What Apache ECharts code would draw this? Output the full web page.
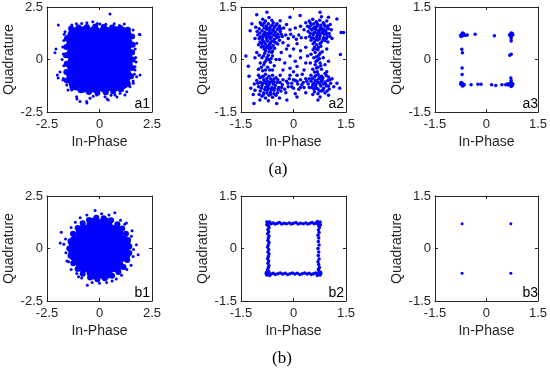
<!DOCTYPE html>
<html>
<head>
<meta charset="utf-8">
<script src="https://cdn.jsdelivr.net/npm/echarts@6/dist/echarts.min.js"></script>
<style>
html,body{margin:0;padding:0;background:#fff;}
#chart{width:550px;height:369px;}
</style>
</head>
<body>
<div id="chart"></div>
<script>
// ---------- tick labels ----------
const ticksWide = [-2.5, 0, 2.5];
const ticksNarrow = [-1.5, 0, 1.5];
const xName = 'In-Phase';
const yName = 'Quadrature';
const panelTags = ['a1', 'a2', 'a3', 'b1', 'b2', 'b3'];
const captions = ['(a)', '(b)'];

// ---------- a1 : dense noisy cloud ----------
const a1Core = [[-1.15,1.15],[-0.75,1.2],[-0.25,1.2],[0.25,1.2],[0.75,1.2],[1.15,1.15],
[-1.2,0.75],[-0.75,0.75],[-0.25,0.75],[0.25,0.75],[0.75,0.75],[1.2,0.75],
[-1.2,0.25],[-0.75,0.25],[-0.25,0.25],[0.25,0.25],[0.75,0.25],[1.2,0.25],
[-1.2,-0.25],[-0.75,-0.25],[-0.25,-0.25],[0.25,-0.25],[0.75,-0.25],[1.2,-0.25],
[-1.2,-0.75],[-0.75,-0.75],[-0.25,-0.75],[0.25,-0.75],[0.75,-0.75],[1.15,-0.75],
[-1.1,-1.1],[-0.75,-1.2],[-0.25,-1.2],[0.25,-1.2],[0.7,-1.15],[1.05,-1.05]];
const a1Edge = [[-1.35,1.48],[-1.0,1.52],[-0.6,1.55],[-0.2,1.57],[0.2,1.55],[0.6,1.52],[1.0,1.5],[1.35,1.42],
[1.55,1.1],[1.58,0.7],[1.55,0.35],[1.58,0.0],[1.55,-0.4],[1.5,-0.8],[1.35,-1.15],
[1.0,-1.42],[0.65,-1.52],[0.3,-1.56],[-0.1,-1.58],[-0.5,-1.55],[-0.9,-1.47],[-1.28,-1.32],
[-1.55,-1.0],[-1.58,-0.6],[-1.56,-0.2],[-1.6,0.2],[-1.58,0.6],[-1.55,1.0]];
const a1Dots = [[0.5,2.17],[-1.96,1.64],[1.93,1.18],[-1.32,1.64],[-0.85,1.72],[-0.32,1.8],[0.02,1.69],[1.18,1.69],
[1.42,1.25],[-2.07,0.5],[-2.12,0.32],[-1.72,0.26],[-1.64,1.32],[-1.56,1.09],[1.77,0.77],[1.61,0.3],[1.9,1.2],
[1.74,-0.12],[1.69,-0.5],[1.6,-1.02],[-1.88,-0.6],[-2.01,-0.74],[-1.72,-0.9],[-1.56,-1.21],[-1.32,-1.45],
[-1.09,-1.77],[-0.93,-2.0],[-0.61,-2.0],[-0.45,-1.85],[-0.13,-1.69],[0.26,-1.77],[0.42,-1.93],[0.74,-1.69],
[0.98,-1.61],[1.3,-1.53],[1.45,-1.3],[1.61,-1.13],[1.77,-0.82],[1.69,-0.34],[1.93,-0.74],[-1.07,-1.88],
[-0.6,-2.07],[0.36,-1.88],[0.83,-1.79],[1.21,-1.69],[-1.74,-0.98],[-1.97,-0.88],
[-1.1,1.7],[-0.6,1.75],[-0.1,1.72],[0.3,1.68],[0.7,1.7],[0.95,1.62],[1.6,1.4],[1.7,0.5],[1.72,0.1],
[1.66,-0.7],[-1.7,0.9],[-1.75,0.6],[-1.7,-0.3],[-1.78,0.0],[-1.4,1.45],[-1.68,1.2],[-1.5,-1.45],
[-0.3,-1.75],[0.55,-1.7],[1.1,-1.45]];

// ---------- a2 : spread QPSK ----------
const a2Dots = [
[-0.95,1.05],[-0.88,0.98],[-0.8,1.1],[-0.72,1.02],[-0.65,0.95],[-0.58,1.05],[-0.5,0.98],[-0.42,0.9],
[-0.98,0.88],[-0.9,0.82],[-0.84,0.9],[-0.76,0.86],[-0.68,0.8],[-0.6,0.86],[-0.52,0.78],[-0.45,0.72],
[-0.38,0.8],[-1.02,0.7],[-0.94,0.65],[-0.86,0.72],[-0.78,0.62],[-0.7,0.7],[-0.63,0.64],[-0.55,0.58],
[-0.48,0.62],[-0.4,0.55],[-0.32,0.66],[-0.96,0.5],[-0.88,0.55],[-0.8,0.45],[-0.73,0.52],[-0.66,0.46],
[-0.58,0.4],[-0.5,0.48],[-0.92,0.36],[-0.84,0.3],[-0.76,0.38],[-0.68,0.3],[-0.6,0.24],[-0.88,1.15],
[-0.62,1.12],[-0.7,1.2],[-1.08,0.92],[-1.1,0.6],[-0.28,0.9],[-0.3,0.48],[-0.82,0.78],[-0.74,0.74],
[-0.66,0.6],[-0.56,0.7],[-0.9,0.6],[-0.62,0.76],[-0.78,0.96],[-0.46,0.86],[-1.0,0.42],
[-0.92,1.0],[-0.84,1.04],[-0.76,0.92],[-0.69,0.88],[-0.61,0.98],[-0.54,0.92],[-0.47,1.02],[-0.4,0.96],
[-0.96,0.76],[-0.87,0.66],[-0.8,0.7],[-0.72,0.64],[-0.65,0.74],[-0.57,0.82],[-0.5,0.68],[-0.42,0.64],
[-0.98,0.6],[-0.91,0.46],[-0.84,0.5],[-0.76,0.56],[-0.69,0.42],[-0.62,0.52],[-0.54,0.5],[-0.45,0.44],
[-0.86,0.38],[-0.78,0.32],[-0.7,0.36],[-0.64,0.34],[-0.54,0.32],[-1.04,0.8],[-0.35,0.72],[-0.36,0.88],
[-0.82,0.18],[-0.72,0.12],[-0.9,0.05],[-0.78,-0.02],[-0.66,-0.08],[-0.85,-0.15],[-0.74,-0.22],[-0.95,-0.1],
[-0.6,0.1],[-0.68,-0.3],[-0.88,-0.32],[-1.05,0.2],[-0.55,-0.18],[-1.0,-0.28],[-0.8,0.25],[-0.62,0.2],
[-1.1,0.05],[-0.5,0.0],
[-0.86,0.1],[-0.76,0.05],[-0.7,0.0],[-0.82,-0.08],[-0.92,-0.22],[-0.8,-0.3],[-0.64,0.02],[-0.98,0.12],
[-0.7,0.22],[-0.6,-0.3],
[-1.0,-0.45],[-0.9,-0.5],[-0.8,-0.42],[-0.7,-0.48],[-0.6,-0.45],[-0.5,-0.52],[-1.05,-0.6],[-0.95,-0.65],
[-0.85,-0.58],[-0.75,-0.62],[-0.65,-0.56],[-0.55,-0.64],[-0.45,-0.58],[-0.38,-0.66],[-1.0,-0.78],[-0.9,-0.74],
[-0.8,-0.8],[-0.7,-0.72],[-0.62,-0.8],[-0.52,-0.74],[-0.42,-0.8],[-0.32,-0.72],[-0.95,-0.9],[-0.85,-0.95],
[-0.75,-0.88],[-0.66,-0.94],[-0.56,-0.88],[-0.46,-0.95],[-0.36,-0.9],[-0.9,-1.05],[-0.8,-1.1],[-0.7,-1.02],
[-0.6,-1.08],[-0.5,-1.02],[-1.1,-0.88],[-1.12,-0.7],[-0.74,-0.76],[-0.68,-0.66],[-0.88,-0.68],[-0.58,-0.7],
[-0.78,-0.7],[-0.98,-1.0],[-0.4,-1.1],[-0.72,-1.18],[-1.15,-1.0],[-0.3,-0.58],[-0.25,-0.85],
[-0.96,-0.52],[-0.86,-0.48],[-0.76,-0.54],[-0.66,-0.64],[-0.56,-0.56],[-0.46,-0.66],[-0.92,-0.82],[-0.82,-0.86],
[-0.72,-0.82],[-0.64,-0.86],[-0.54,-0.82],[-0.44,-0.86],[-0.86,-1.0],[-0.76,-0.96],[-0.66,-1.0],[-0.56,-0.98],
[-1.02,-0.68],[-0.34,-0.8],[-0.82,-0.64],[-0.6,-0.62],
[-0.2,-0.62],[-0.12,-0.55],[-0.05,-0.68],[0.05,-0.6],[0.12,-0.7],[0.2,-0.58],[0.28,-0.66],[0.35,-0.55],
[0.42,-0.7],[-0.15,-0.78],[0.0,-0.82],[0.15,-0.85],[0.3,-0.8],[-0.1,-0.45],[0.1,-0.45],[0.25,-0.42],
[-0.22,-0.95],[0.05,-0.98],[0.35,-0.95],
[-0.16,-0.68],[0.0,-0.58],[0.1,-0.62],[0.24,-0.72],[0.38,-0.62],[-0.05,-0.78],[0.2,-0.8],[0.45,-0.8],
[0.5,-0.45],[0.6,-0.5],[0.7,-0.42],[0.8,-0.48],[0.9,-0.4],[1.0,-0.5],[0.5,-0.62],[0.58,-0.68],
[0.66,-0.6],[0.74,-0.66],[0.82,-0.58],[0.9,-0.64],[0.98,-0.6],[1.06,-0.68],[0.52,-0.8],[0.62,-0.78],
[0.7,-0.84],[0.78,-0.76],[0.86,-0.82],[0.94,-0.76],[1.02,-0.84],[0.6,-0.92],[0.7,-0.98],[0.8,-0.9],
[0.9,-0.96],[1.1,-0.55],[0.45,-0.55],[0.72,-0.55],[0.86,-0.7],[0.64,-0.72],[0.76,-0.7],[1.15,-0.78],
[0.55,-1.0],[0.95,-0.35],[0.68,-0.35],
[0.54,-0.54],[0.64,-0.46],[0.74,-0.5],[0.84,-0.52],[0.94,-0.46],[0.55,-0.72],[0.68,-0.66],[0.8,-0.62],
[0.92,-0.7],[1.0,-0.76],[0.58,-0.84],[0.66,-0.82],[0.74,-0.9],[0.84,-0.88],[0.96,-0.9],[1.04,-0.58],
[0.78,-0.56],[0.62,-0.6],
[0.6,0.35],[0.7,0.28],[0.62,0.2],[0.72,0.12],[0.58,0.05],[0.68,-0.02],[0.76,-0.1],[0.62,-0.15],
[0.7,-0.22],[0.8,-0.28],[0.55,-0.28],[0.85,0.05],[0.82,0.22],[0.5,0.15],[0.9,-0.15],[0.66,0.42],
[0.78,0.38],[0.95,0.3],[0.48,-0.1],[1.0,-0.05],
[0.64,0.3],[0.76,0.18],[0.66,0.08],[0.64,-0.06],[0.74,0.02],[0.66,-0.24],[0.78,-0.18],[0.6,-0.36],
[0.72,0.35],[0.56,0.28],
[0.45,1.1],[0.55,1.15],[0.65,1.08],[0.75,1.12],[0.85,1.05],[0.95,1.1],[1.05,1.0],[0.4,0.95],
[0.5,0.98],[0.6,0.92],[0.7,0.98],[0.8,0.9],[0.9,0.95],[1.0,0.88],[0.42,0.8],[0.52,0.84],
[0.62,0.78],[0.72,0.82],[0.82,0.76],[0.92,0.8],[1.02,0.74],[0.46,0.66],[0.56,0.7],[0.66,0.64],
[0.76,0.68],[0.86,0.62],[0.96,0.66],[0.5,0.55],[0.6,0.5],[0.7,0.56],[0.8,0.5],[0.9,0.54],
[0.35,0.62],[0.3,0.85],[1.1,0.6],[0.74,0.74],[0.68,0.7],[0.78,0.84],[0.58,0.6],[0.88,0.72],
[0.64,0.86],[1.08,0.85],[0.35,1.05],[0.8,1.22],[0.98,0.5],
[0.48,1.04],[0.58,1.02],[0.68,1.02],[0.78,0.98],[0.88,1.0],[0.98,0.96],[0.46,0.9],[0.56,0.88],
[0.66,0.94],[0.76,0.9],[0.86,0.86],[0.96,0.88],[0.48,0.74],[0.58,0.76],[0.7,0.76],[0.84,0.8],
[0.94,0.74],[0.52,0.62],[0.64,0.56],[0.74,0.6],[0.84,0.56],[0.94,0.6],[0.56,0.45],[0.76,0.46],[1.04,0.66],
[-0.22,0.7],[-0.15,0.6],[-0.08,0.72],[0.0,0.65],[0.08,0.58],[0.15,0.7],[0.22,0.62],[-0.1,0.85],
[0.05,0.9],[0.2,0.95],[-0.2,1.0],[0.1,0.45],[-0.15,0.4],
[-0.35,0.2],[-0.2,0.3],[0.0,0.3],[0.2,0.25],[0.35,0.35],[-0.4,0.0],[-0.25,-0.1],[-0.1,0.1],
[0.05,-0.05],[0.2,0.05],[0.35,-0.1],[-0.3,-0.3],[-0.1,-0.25],[0.1,-0.2],[0.3,-0.3],[0.4,0.1],
[-0.38,-0.45],[0.0,-0.35],
[-1.05,1.28],[-0.76,1.35],[-1.19,1.02],[-1.24,0.82],[-1.36,0.1],[-1.29,-0.19],[-1.27,-0.48],[-1.22,-0.82],
[-1.13,-1.26],[-0.96,-1.16],[-0.48,-1.26],[-0.19,-1.16],[0.1,-1.07],[0.7,-1.16],[0.76,-1.07],[1.0,-1.02],
[1.32,-0.82],[1.24,-0.68],[1.43,0.77],[1.36,0.77],[1.24,1.16],[1.0,1.21],[0.76,1.35],[0.19,1.26],
[-0.1,1.21],[-0.38,1.11],[1.34,0.14]];

// ---------- a3 : compensated, few stray points ----------
const a3Dots = [[-0.72,0.72],[-0.7,0.68],[-0.67,0.74],[-0.75,0.69],[-0.65,0.7],[-0.7,0.76],[-0.61,0.69],[-0.56,0.7],[-0.74,0.66],
[0.69,0.72],[0.73,0.68],[0.75,0.74],[0.67,0.7],[0.77,0.71],[0.71,0.66],[0.72,0.76],[0.72,0.6],[0.72,0.53],
[-0.72,-0.72],[-0.7,-0.68],[-0.67,-0.74],[-0.75,-0.7],[-0.65,-0.72],[-0.7,-0.76],[-0.74,-0.66],
[0.69,-0.72],[0.73,-0.68],[0.75,-0.74],[0.67,-0.72],[0.77,-0.7],[0.71,-0.66],[0.72,-0.77],[0.72,-0.6],[0.71,-0.53],[0.64,-0.73],
[-0.33,0.72],[0.23,0.68],[0.72,0.15],[0.68,0.12],[-0.72,0.29],[-0.7,0.19],[-0.71,-0.24],[-0.71,-0.43],
[-0.45,-0.72],[-0.25,-0.71],[-0.16,-0.71],[0.15,-0.72],[0.27,-0.74],[0.45,-0.72],[0.56,-0.72],[0.62,-0.69]];

// ---------- b1 : circular noise cloud ----------
const b1Core = [[-0.25,1.1],[0.25,1.1],
[-0.75,0.75],[-0.25,0.75],[0.25,0.75],[0.75,0.75],
[-1.1,0.25],[-0.75,0.25],[-0.25,0.25],[0.25,0.25],[0.75,0.25],[1.1,0.25],
[-1.1,-0.25],[-0.75,-0.25],[-0.25,-0.25],[0.25,-0.25],[0.75,-0.25],[1.1,-0.25],
[-0.75,-0.75],[-0.25,-0.75],[0.25,-0.75],[0.75,-0.75],
[-0.25,-1.1],[0.25,-1.1]];
const b1Edge = [[1.42,0.1],[1.36,0.4],[1.26,0.7],[1.08,0.95],[0.85,1.16],[0.55,1.34],[0.2,1.44],[-0.15,1.46],
[-0.5,1.36],[-0.8,1.2],[-1.04,0.98],[-1.26,0.7],[-1.38,0.35],[-1.44,0.0],[-1.38,-0.35],[-1.25,-0.7],
[-1.04,-0.98],[-0.8,-1.2],[-0.45,-1.38],[-0.1,-1.46],[0.25,-1.42],[0.6,-1.3],[0.9,-1.12],[1.14,-0.88],
[1.32,-0.55],[1.42,-0.22]];
const b1Dots = [[-0.92,1.46],[-0.21,1.81],[0.73,1.7],[-1.82,0.77],[-1.87,0.26],[-1.7,0.2],[-1.47,-0.63],
[-1.08,-1.19],[-0.58,-1.75],[0.34,-1.62],[1.05,-1.27],[1.6,-0.38],[1.84,-0.3],[1.76,0.18],[1.52,0.58],
[1.28,1.22],[1.2,1.15],[-0.6,1.6],[0.1,1.66],[0.45,1.6],[1.0,1.35],[1.55,0.85],[1.62,-0.05],[1.5,-0.8],
[0.8,-1.45],[0.0,-1.65],[-0.35,-1.62],[-0.85,-1.4],[-1.35,-1.0],[-1.6,-0.2],[-1.62,0.45],[-1.35,1.0],
[-1.15,1.25],[1.3,-1.0],[-1.55,-0.6],[-1.0,-1.35],[0.6,-1.55]];

// ---------- b2 : square ring ----------
const b2Dots = [[-0.7,0.74],[-0.64,0.71],[-0.58,0.73],[-0.52,0.7],[-0.46,0.72],[-0.4,0.74],[-0.34,0.7],[-0.27,0.72],
[-0.2,0.71],[-0.12,0.73],[-0.06,0.7],[0.0,0.72],[0.07,0.74],[0.13,0.7],[0.2,0.72],[0.28,0.71],[0.35,0.73],
[0.41,0.7],[0.47,0.72],[0.53,0.74],[0.59,0.71],[0.65,0.73],[0.7,0.7],
[-0.7,-0.7],[-0.64,-0.73],[-0.58,-0.71],[-0.52,-0.74],[-0.45,-0.72],[-0.38,-0.7],[-0.31,-0.73],[-0.24,-0.71],
[-0.17,-0.74],[-0.1,-0.72],[-0.03,-0.7],[0.04,-0.73],[0.11,-0.71],[0.18,-0.74],[0.25,-0.72],[0.32,-0.7],
[0.39,-0.73],[0.45,-0.71],[0.51,-0.74],[0.57,-0.72],[0.63,-0.7],[0.68,-0.73],
[-0.72,0.66],[-0.7,0.6],[-0.73,0.54],[-0.71,0.48],[-0.74,0.42],[-0.7,0.36],[-0.72,0.3],[-0.73,0.23],
[-0.7,0.17],[-0.72,0.1],[-0.74,0.04],[-0.71,-0.03],[-0.73,-0.1],[-0.7,-0.16],[-0.72,-0.23],[-0.74,-0.29],
[-0.71,-0.36],[-0.73,-0.42],[-0.7,-0.49],[-0.72,-0.55],[-0.74,-0.61],[-0.71,-0.66],
[0.72,0.66],[0.74,0.6],[0.71,0.53],[0.73,0.46],[0.7,0.38],[0.72,0.3],[0.71,0.2],[0.73,0.1],
[0.7,0.0],[0.72,-0.1],[0.71,-0.2],[0.73,-0.3],[0.7,-0.38],[0.72,-0.46],[0.74,-0.54],[0.71,-0.6],[0.73,-0.66],
[-0.76,0.76],[-0.68,0.76],[-0.76,0.68],[0.76,0.76],[0.68,0.77],[0.77,0.68],[-0.76,-0.76],[-0.68,-0.77],
[-0.77,-0.68],[0.76,-0.76],[0.68,-0.77],[0.77,-0.68],[-0.78,-0.72],[0.78,-0.72]];

// ---------- b3 : ideal constellation ----------
const b3Dots = [[-0.71,0.71],[0.71,0.71],[-0.71,-0.71],[0.71,-0.71]];

// ---------- layout / styles ----------
const BLUE = '#0000ff';
const TXT = '#262626';
const FONT = '"Liberation Sans", Arial, sans-serif';
const colLeft = [47, 241, 435];
const rowTop = [7, 196];
const W = 105, H = 105;

const panels = [
  {ticks: ticksWide,   layers: [[a1Core,16],[a1Edge,6],[a1Dots,3]]},
  {ticks: ticksNarrow, layers: [[a2Dots,3.5]]},
  {ticks: ticksNarrow, layers: [[a3Dots,3.5]]},
  {ticks: ticksWide,   layers: [[b1Core,16],[b1Edge,6],[b1Dots,3]]},
  {ticks: ticksNarrow, layers: [[b2Dots,3.5]]},
  {ticks: ticksNarrow, layers: [[b3Dots,3]]}
];

const grid = [], xAxis = [], yAxis = [], series = [], graphic = [];
panels.forEach((p, i) => {
  const left = colLeft[i % 3], top = rowTop[Math.floor(i / 3)];
  grid.push({left: left, top: top, width: W, height: H, show: false});
  const t = p.ticks;
  const base = {
    gridIndex: i, type: 'value', min: t[0], max: t[t.length - 1], interval: t[1] - t[0],
    splitLine: {show: false},
    axisLine: {show: true, onZero: false, lineStyle: {color: TXT, width: 1}},
    axisTick: {show: true, inside: true, length: 3, lineStyle: {color: TXT}}
  };
  xAxis.push(Object.assign({}, base, {
    position: 'bottom',
    axisLabel: {color: TXT, fontSize: 13, fontFamily: FONT, margin: 6},
    name: xName, nameLocation: 'middle', nameGap: 23,
    nameTextStyle: {color: TXT, fontSize: 14, fontFamily: FONT}
  }));
  xAxis.push(Object.assign({}, base, {position: 'top', axisLabel: {show: false}}));
  yAxis.push(Object.assign({}, base, {
    position: 'left',
    axisLabel: {color: TXT, fontSize: 13, fontFamily: FONT, margin: 4},
    name: yName, nameLocation: 'middle', nameGap: 31,
    nameTextStyle: {color: TXT, fontSize: 14, fontFamily: FONT}
  }));
  yAxis.push(Object.assign({}, base, {position: 'right', axisLabel: {show: false}}));
  p.layers.forEach(l => {
    series.push({
      type: 'scatter', xAxisIndex: 2 * i, yAxisIndex: 2 * i,
      data: l[0], symbol: 'circle', symbolSize: l[1],
      itemStyle: {color: BLUE, opacity: 1}, silent: true, clip: true
    });
  });
  graphic.push({
    type: 'text', x: left + W - 2, y: top + H - 8,
    style: {text: panelTags[i], fill: '#000', font: '14px ' + FONT, textAlign: 'right', textVerticalAlign: 'middle'}
  });
});
graphic.push({type: 'text', x: 278, y: 170,
  style: {text: captions[0], fill: '#000', font: '17px "Liberation Serif", "Times New Roman", serif', textAlign: 'center', textVerticalAlign: 'middle'}});
graphic.push({type: 'text', x: 282, y: 359,
  style: {text: captions[1], fill: '#000', font: '17px "Liberation Serif", "Times New Roman", serif', textAlign: 'center', textVerticalAlign: 'middle'}});

const chart = echarts.init(document.getElementById('chart'), null, {renderer: 'canvas'});
chart.setOption({
  animation: false,
  backgroundColor: '#ffffff',
  grid: grid, xAxis: xAxis, yAxis: yAxis, series: series, graphic: graphic
});
</script>
</body>
</html>
